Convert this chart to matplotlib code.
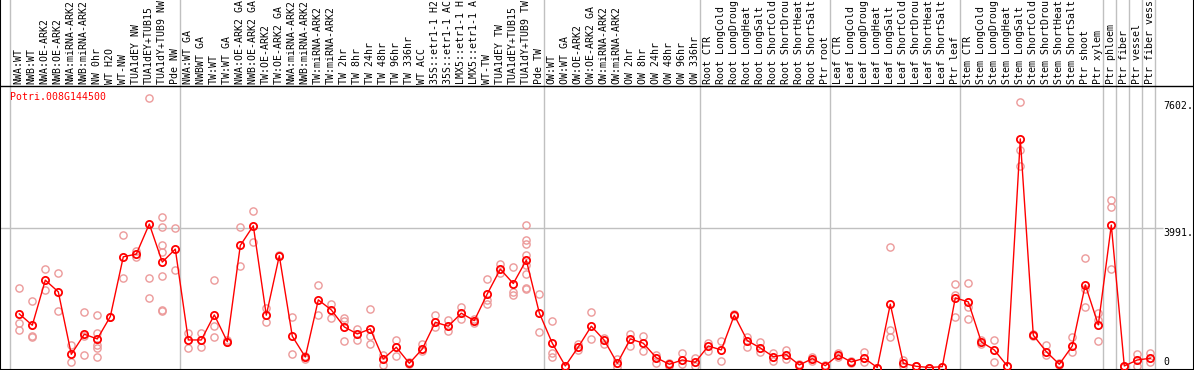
import matplotlib
matplotlib.use("Agg")
import matplotlib.pyplot as plt
import matplotlib.transforms as mtransforms

# sample names (header), as far as they show in the header
labels = [
    "NWA:WT", "NWB:WT", "NWA:OE-ARK2", "NWB:OE-ARK2", "NWA:miRNA-ARK2", "NWB:miRNA-ARK2",
    "NW 0hr", "WT H2O", "WT-NW", "TUA1dEY NW", "TUA1dEY+TUB15", "TUA1dY+TUB9 NW", "Pde NW",
    "NWA:WT GA", "NWBWT GA", "TW:WT", "TW:WT GA", "NWA:OE-ARK2 GA", "NWB:OE-ARK2 GA",
    "TW:OE-ARK2", "TW:OE-ARK2 GA", "NWA:miRNA-ARK2", "NWB:miRNA-ARK2", "TW:miRNA-ARK2",
    "TW:miRNA-ARK2", "TW 2hr", "TW 8hr", "TW 24hr", "TW 48hr", "TW 96hr", "TW 336hr", "WT ACC",
    "35S::etr1-1 H2", "35S::etr1-1 AC", "LMX5::etr1-1 H", "LMX5::etr1-1 A", "WT-TW",
    "TUA1dEY TW", "TUA1dEY+TUB15", "TUA1dY+TUB9 TW", "Pde TW",
    "OW:WT", "OW:WT GA", "OW:OE-ARK2", "OW:OE-ARK2 GA", "OW:miRNA-ARK2", "OW:miRNA-ARK2",
    "OW 2hr", "OW 8hr", "OW 24hr", "OW 48hr", "OW 96hr", "OW 336hr",
    "Root CTR", "Root LongCold", "Root LongDroug", "Root LongHeat", "Root LongSalt",
    "Root ShortCold", "Root ShortDrou", "Root ShortHeat", "Root ShortSalt", "Ptr root",
    "Leaf CTR", "Leaf LongCold", "Leaf LongDroug", "Leaf LongHeat", "Leaf LongSalt",
    "Leaf ShortCold", "Leaf ShortDrou", "Leaf ShortHeat", "Leaf ShortSalt", "Ptr leaf",
    "Stem CTR", "Stem LongCold", "Stem LongDroug", "Stem LongHeat", "Stem LongSalt",
    "Stem ShortCold", "Stem ShortDrou", "Stem ShortHeat", "Stem ShortSalt", "Ptr shoot",
    "Ptr xylem", "Ptr phloem", "Ptr fiber", "Ptr vessel", "Ptr fiber vess",
]

# mean expression per sample
means = [
    1533, 1209, 2499, 2164, 378, 952, 817, 1456, 3167, 3244, 4104, 3015, 3388,
    788, 788, 1505, 739, 3491, 4055, 1496, 3196, 894, 301, 1935, 1648, 1161, 960, 1103,
    244, 579, 120, 530, 1295, 1181, 1553, 1341, 2107, 2814, 2402, 3072, 1562,
    694, 43, 588, 1181, 780, 120, 817, 694, 281, 92, 215, 149,
    616, 502, 1496, 768, 559, 310, 367, 72, 252, 52,
    358, 158, 264, 0, 1811, 120, 34, 0, 24, 1992,
    1877, 731, 502, 43, 6540, 923, 453, 92, 616, 2364,
    1218, 4075, 43, 215, 264,
]

# individual replicates per sample
reps = [
    [2270, 1284, 1075], [1906, 903, 866], [2814, 2221], [2708, 1619], [636, 158],
    [1582, 903, 350], [1496, 997, 645, 567, 301], [1456], [3789, 2557], [3339, 3158],
    [7715, 2557, 1983], [4305, 4018, 3511, 3302, 2614, 1648, 1619], [3989, 2786],
    [989, 550], [989, 588], [2499, 1181, 866], [788, 722], [4007, 2900], [4477, 3577],
    [1697, 1295], [3216, 3176], [1439, 378], [338, 235], [2356, 1496], [1829, 1427],
    [1427, 1333, 751], [1095, 797], [1668, 894, 682], [358, 72], [788, 338], [150, 90],
    [674, 482], [1505, 1170], [1361, 1055], [1725, 1381], [1390, 1267],
    [2528, 1935, 1811], [2975, 2708], [2872, 2172, 2078],
    [4075, 3654, 3540, 3224, 2938, 2671, 2287, 2258], [2098, 1009],
    [1333, 424, 310], [43, 20], [674, 500], [1591, 808], [850, 674], [235, 10],
    [960, 625], [903, 482], [350, 138], [130, 50], [407, 100], [264, 40],
    [694, 482], [768, 195], [1533, 1460], [883, 596], [722, 453], [407, 178],
    [502, 230], [100, 50], [300, 200], [60, 40],
    [407, 310], [200, 120], [444, 166], [0], [3454, 1075, 883], [215, 30], [40, 30],
    [0], [24], [2393, 2087, 1456],
    [2413, 1743, 1399], [780, 680], [788, 158], [43], [7601, 6225, 5775], [960, 890],
    [645, 350], [120, 70], [866, 453], [3130, 2241, 1743],
    [1571, 1361, 751], [4801, 4591, 2814], [43, 20], [387, 52], [407, 166],
]

# group separators (index of last sample before each line)
group_ends = [12, 40, 52, 62, 72, 83, 84, 85, 86, 87]
y_ticks = [0, 3991, 7602]
gene = "Potri.008G144500"

mono = "DejaVu Sans Mono"
fs = 7.1
grey = "#c0c0c0"

W, H = 1194, 370
fig = plt.figure(figsize=(W / 100, H / 100), dpi=100, facecolor="white")
ax = fig.add_axes([0, 0, 1, 1])

# pixel layout: first sample at x=19.3, 13 px per sample; 0 at y=367.5, 3991 at y=228
step = 13.0
x0 = 19.3
ax.set_xlim(-x0 / step, (W - x0) / step)
ppu = (367.5 - 228) / 3991.0
ax.set_ylim(-(H - 367.5) / ppu, 367.5 / ppu)

xs = list(range(len(labels)))
blend = mtransforms.blended_transform_factory(ax.transData, ax.transAxes)

# separators
ax.axvline(-0.72, color=grey, lw=1, zorder=1)
for g in group_ends:
    ax.axvline(g + 0.36, color=grey, lw=1, zorder=1)

# horizontal grid line at 3991
x_lab = (1163 - x0) / step
ax.hlines(3991, -x0 / step, x_lab, color=grey, lw=1, zorder=1)

# header line
hdr = (H - 86) / H
ax.plot([0, 1], [hdr, hdr], transform=ax.transAxes, color="black", lw=1, zorder=3)

# header labels
for i, lab in enumerate(labels):
    ax.text(i - 0.05, (H - 84) / H, lab, transform=blend, rotation=90,
            ha="center", va="bottom", family=mono, fontsize=fs, color="black")

# replicates
for i, r in enumerate(reps):
    ax.plot([i] * len(r), r, linestyle="none", marker="o", markersize=5.2,
            markerfacecolor="none", markeredgecolor="#ec9a9a", markeredgewidth=1.0, zorder=2)

# mean line
ax.plot(xs, means, color="red", lw=1, marker="o", markersize=5.2,
        markerfacecolor="none", markeredgecolor="red", markeredgewidth=1.3, zorder=4)

# right-side value labels
offsets = {0: 5.5, 3991: -4.5, 7602: -4.5}
for v in y_ticks:
    ax.annotate(f"{v}." if v else "0", xy=(x_lab, v), xytext=(0, offsets[v] * 0.72),
                textcoords="offset points", ha="left", va="center",
                family=mono, fontsize=fs, color="black")

fig.text(10 / W, 1 - 96.5 / H, gene, ha="left", va="center", family=mono,
         fontsize=fs, color="red")

ax.set_xticks([])
ax.set_yticks([])
for s in ["left", "right", "bottom"]:
    ax.spines[s].set_color("black")
    ax.spines[s].set_linewidth(1.5)
ax.spines["top"].set_visible(False)

fig.savefig("out.png", dpi=100, facecolor="white")
plt.close(fig)
